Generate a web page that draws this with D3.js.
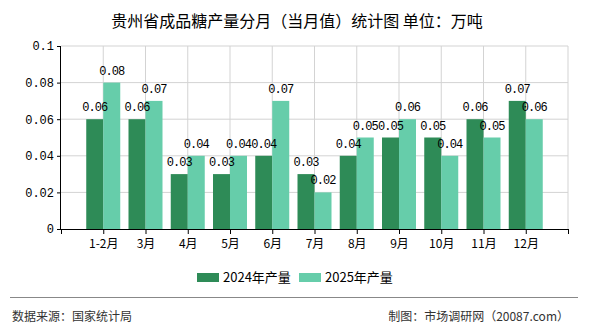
<!DOCTYPE html>
<html>
<head>
<meta charset="utf-8">
<script src="https://cdn.jsdelivr.net/npm/d3@7"></script>
<style>
  body { margin: 0; background: #fff; }
  svg { display: block; }
</style>
</head>
<body>
<svg id="chart"></svg>
<script>
// data
const categories = ["1-2月", "3月", "4月", "5月", "6月", "7月", "8月", "9月", "10月", "11月", "12月"];
const series2024 = [0.06, 0.06, 0.03, 0.03, 0.04, 0.03, 0.04, 0.05, 0.05, 0.06, 0.07];
const series2025 = [0.08, 0.07, 0.04, 0.04, 0.07, 0.02, 0.05, 0.06, 0.04, 0.05, 0.06];
const yTicks = [0, 0.02, 0.04, 0.06, 0.08, 0.1];
const seriesNames = ["2024年产量", "2025年产量"];
const colors = ["#2e8b57", "#66cdaa"];

const width = 590, height = 330;
const svg = d3.select("#chart").attr("width", width).attr("height", height);
const cjk = "'Noto Sans CJK SC', sans-serif";
const mono = "'Liberation Mono', 'DejaVu Sans Mono', monospace";

// title
svg.append("text")
  .attr("x", 297).attr("y", 27)
  .attr("text-anchor", "middle")
  .attr("font-family", cjk).attr("font-size", 16)
  .attr("fill", "#000")
  .text("贵州省成品糖产量分月（当月值）统计图 单位：万吨");

// scales: category centres sit on the inner points of a 12-slot axis
const plotL = 61, plotR = 568, plotT = 46, plotB = 229;
const slots = [""].concat(categories).concat([" "]);
const x = d3.scalePoint().domain(slots).range([plotL, plotR]);
const y = d3.scaleLinear().domain([0, 0.1]).range([plotB, plotT]);
const barW = 17;

// grid
svg.append("g").selectAll("line")
  .data(yTicks.slice(1)).enter()
  .append("line")
  .attr("x1", plotL).attr("x2", plotR)
  .attr("y1", d => y(d)).attr("y2", d => y(d))
  .attr("stroke", "#d3d3d3");
svg.append("g").selectAll("line")
  .data(slots.slice(1)).enter()
  .append("line")
  .attr("x1", d => x(d)).attr("x2", d => x(d))
  .attr("y1", plotT).attr("y2", plotB)
  .attr("stroke", "#d3d3d3");

// bars first, then all labels on top
const groups = [series2024, series2025];
const offset = si => (si === 0 ? -barW : 0);
groups.forEach((vals, si) => {
  svg.append("g").selectAll("rect")
    .data(vals).enter()
    .append("rect")
    .attr("x", (d, i) => x(categories[i]) + offset(si))
    .attr("y", d => y(d))
    .attr("width", barW)
    .attr("height", d => plotB - y(d))
    .attr("fill", colors[si]);
});
groups.forEach((vals, si) => {
  svg.append("g").selectAll("text")
    .data(vals).enter()
    .append("text")
    .attr("x", (d, i) => x(categories[i]) + offset(si) + barW / 2)
    .attr("y", d => y(d) - 8)
    .attr("text-anchor", "middle")
    .attr("font-family", mono).attr("font-size", 12)
    .attr("letter-spacing", -1)
    .attr("fill", "#000")
    .text(d => d);
});

// axes
const yAxis = d3.axisLeft(y).tickValues(yTicks).tickSize(4).tickFormat(d => d);
svg.append("g")
  .attr("transform", `translate(${plotL},0)`)
  .call(yAxis)
  .call(g => g.select(".domain").attr("d", `M-0.5,${plotT}V${plotB}`))
  .call(g => g.selectAll("text").attr("font-family", mono).attr("font-size", 12).attr("fill", "#000"));

const xAxis = d3.axisBottom(x).tickSize(5).tickSizeOuter(0);
svg.append("g")
  .attr("transform", `translate(0,${plotB})`)
  .call(xAxis)
  .call(g => g.selectAll("text")
    .attr("font-family", cjk).attr("font-size", 12).attr("fill", "#000").attr("dy", "0.9em"));

svg.selectAll(".domain, .tick line").attr("stroke", "#000");

// legend
const legendX = [197, 299];
seriesNames.forEach((name, i) => {
  svg.append("rect")
    .attr("x", legendX[i]).attr("y", 273)
    .attr("width", 22).attr("height", 9)
    .attr("fill", colors[i]);
  svg.append("text")
    .attr("x", legendX[i] + 26).attr("y", 282)
    .attr("font-family", cjk).attr("font-size", 13)
    .attr("fill", "#000")
    .text(name);
});

// footer
svg.append("line")
  .attr("x1", 10).attr("x2", 578)
  .attr("y1", 297.5).attr("y2", 297.5)
  .attr("stroke", "#888");
svg.append("text")
  .attr("x", 12).attr("y", 321)
  .attr("font-family", cjk).attr("font-size", 12)
  .attr("fill", "#333")
  .text("数据来源：国家统计局");
svg.append("text")
  .attr("x", 569).attr("y", 321)
  .attr("text-anchor", "end")
  .attr("font-family", cjk).attr("font-size", 12)
  .attr("fill", "#333")
  .text("制图：市场调研网（20087.com）");
</script>
</body>
</html>
